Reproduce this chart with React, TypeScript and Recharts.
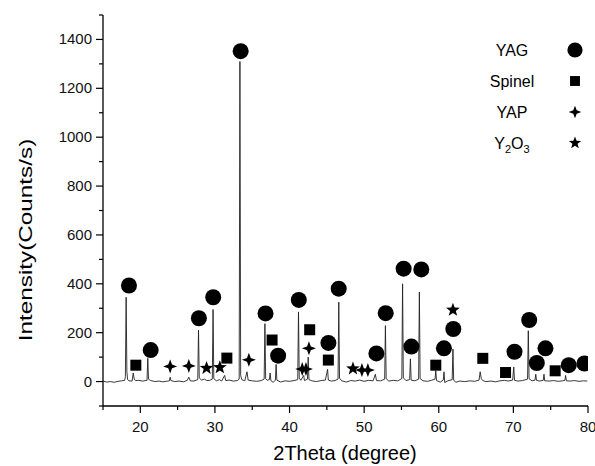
import React from 'react';
import { ComposedChart, Line, Scatter, XAxis, YAxis } from 'recharts';

// XRD trace: [2theta, intensity]
const trace: [number, number][] = [
  [15.0, 2], [15.5, -2], [16.0, 0], [16.5, -3], [17.0, 1], [17.5, 3], [17.9, 5], [18.0, 20], [18.1, 345], [18.2, 40], [18.3, 8],
  [18.5, 3], [18.9, 2], [19.05, 35], [19.2, 8], [19.4, 4], [19.8, 5], [20.3, 2], [20.9, 5], [21.0, 95], [21.1, 10], [21.4, 4],
  [22.0, 0], [22.5, 2], [23.0, -1], [23.5, 1], [23.9, 3], [24.0, 18], [24.1, 4], [24.6, 0], [25.2, 2], [25.8, -1], [26.3, 5],
  [26.5, 18], [26.7, 3], [27.2, 2], [27.7, 8], [27.8, 210], [27.9, 15], [28.2, 6], [28.6, 10], [28.9, 4], [29.3, 5], [29.65, 10],
  [29.75, 295], [29.85, 12], [30.2, 3], [30.6, 8], [30.9, 2], [31.3, 25], [31.45, 4], [31.9, 6], [32.5, 2], [33.0, 4], [33.25, 10],
  [33.35, 1310], [33.45, 25], [33.6, 8], [34.0, 3], [34.3, 40], [34.45, 6], [35.0, 3], [35.6, 1], [36.2, 4], [36.6, 10], [36.7, 237],
  [36.8, 12], [37.0, 5], [37.3, 8], [37.4, 35], [37.5, 4], [37.8, -3], [38.1, 5], [38.2, 70], [38.3, 6], [38.8, -2], [39.4, 3],
  [40.0, 1], [40.6, 4], [41.1, 8], [41.2, 285], [41.3, 15], [41.5, 5], [41.9, 25], [42.0, 4], [42.4, 10], [42.5, 100], [42.6, 8],
  [43.0, 3], [43.6, 0], [44.2, 4], [44.8, 6], [45.1, 50], [45.2, 6], [45.6, 2], [46.1, 4], [46.5, 10], [46.6, 325], [46.7, 14],
  [47.0, 3], [47.6, -2], [48.2, 4], [48.8, 2], [49.4, 6], [50.0, 1], [50.6, 5], [51.2, 3], [51.5, 30], [51.65, 4], [52.2, 3],
  [52.75, 10], [52.85, 229], [52.95, 12], [53.3, 2], [53.9, 5], [54.5, 3], [55.05, 12], [55.15, 400], [55.25, 15], [55.6, 4],
  [56.1, 8], [56.2, 93], [56.3, 6], [56.8, 3], [57.3, 10], [57.4, 366], [57.5, 12], [57.9, 3], [58.5, 1], [59.0, 5], [59.5, 10],
  [59.6, 45], [59.7, 4], [60.2, -2], [60.6, 6], [60.7, 40], [60.8, -4], [61.2, 3], [61.8, 8], [61.9, 133], [62.0, 5], [62.3, -3],
  [62.8, 2], [63.5, 0], [64.2, 3], [64.8, 1], [65.4, 6], [65.55, 40], [65.7, 12], [65.9, 4], [66.3, 0], [67.0, 2], [67.6, -1],
  [68.2, 3], [68.8, 5], [69.3, 2], [69.9, 6], [70.05, 60], [70.15, 5], [70.6, 2], [71.2, 4], [71.9, 10], [72.0, 208], [72.1, 12],
  [72.5, 3], [72.9, 6], [73.0, 30], [73.1, 5], [73.5, 2], [74.0, 5], [74.1, 30], [74.2, 3], [74.8, 2], [75.4, 4], [76.0, 1],
  [76.6, 3], [76.9, 5], [77.0, 25], [77.1, 3], [77.6, 2], [78.2, 4], [78.8, 1], [79.4, 3], [79.9, 2],
];

// phase markers: [2theta, intensity]
const yagMarks: [number, number][] = [
  [18.48, 393], [21.39, 129], [27.85, 259], [29.77, 345], [33.45, 1352], [36.78, 279], [38.47, 106], [41.24, 334],
  [45.21, 158], [46.59, 380], [51.64, 115], [52.89, 280], [55.29, 462], [56.33, 143], [57.66, 459], [60.69, 136],
  [61.95, 215], [70.15, 122], [72.12, 252], [73.14, 76], [74.3, 136], [77.42, 67], [79.52, 74],
];
const spinelMarks: [number, number][] = [
  [19.4, 67], [31.6, 96], [37.66, 170], [42.7, 212], [45.2, 88], [59.6, 67], [65.9, 95], [68.95, 37], [75.6, 44],
];
const yapMarks: [number, number][] = [
  [24.0, 62], [26.5, 64], [34.55, 89], [41.7, 51], [42.2, 51], [42.6, 136], [49.7, 47], [50.5, 47],
];
const y2o3Marks: [number, number][] = [
  [28.88, 55], [30.66, 58], [48.5, 53], [61.9, 293],
];

const xMajorTicks = [20, 30, 40, 50, 60, 70, 80];
const xAllTicks = [15, 20, 25, 30, 35, 40, 45, 50, 55, 60, 65, 70, 75, 80];
const yMajorTicks = [0, 200, 400, 600, 800, 1000, 1200, 1400];
const yAllTicks = [-100, 0, 100, 200, 300, 400, 500, 600, 700, 800, 900, 1000, 1100, 1200, 1300, 1400, 1500];

const phaseNames = ['YAG', 'Spinel', 'YAP', 'Y2O3'];

const FONT = '"Liberation Sans", Arial, sans-serif';

const toPts = (arr: [number, number][]) => arr.map(([x, y]) => ({ x, y }));

const drawSymbol = (kind: string, cx: number, cy: number, scale = 1) => {
  if (kind === 'YAG') return <circle cx={cx} cy={cy} r={8 * scale} fill="#000" />;
  if (kind === 'Spinel') {
    const s = 5.5 * scale;
    return <rect x={cx - s} y={cy - s} width={2 * s} height={2 * s} fill="#000" />;
  }
  if (kind === 'YAP') {
    const o = 7 * scale, i = 1.9 * scale;
    const d = `M${cx},${cy - o} L${cx + i},${cy - i} L${cx + o},${cy} L${cx + i},${cy + i} L${cx},${cy + o} L${cx - i},${cy + i} L${cx - o},${cy} L${cx - i},${cy - i} Z`;
    return <path d={d} fill="#000" />;
  }
  const outer = 7.2 * scale, inner = 3 * scale;
  const pts: string[] = [];
  for (let k = 0; k < 10; k++) {
    const r = k % 2 === 0 ? outer : inner;
    const a = -Math.PI / 2 + (k * Math.PI) / 5;
    pts.push(`${cx + r * Math.cos(a)},${cy + r * Math.sin(a)}`);
  }
  return <polygon points={pts.join(' ')} fill="#000" />;
};

const shapeFor = (kind: string) => (props: any) => {
  const { cx, cy } = props;
  if (cx == null || cy == null) return <g />;
  return drawSymbol(kind, cx, cy);
};

const XTick = (props: any) => {
  const { x, y, payload } = props;
  const major = xMajorTicks.includes(payload.value);
  return (
    <g>
      <line x1={x} y1={y} x2={x} y2={y + (major ? 7 : 4)} stroke="#000" strokeWidth={1.2} />
      {major && (
        <text x={x} y={y + 26} textAnchor="middle" fontSize={15} fontFamily={FONT} fill="#111">
          {payload.value}
        </text>
      )}
    </g>
  );
};

const YTick = (props: any) => {
  const { x, y, payload } = props;
  const major = yMajorTicks.includes(payload.value);
  return (
    <g>
      <line x1={x} y1={y} x2={x - (major ? 7 : 4)} y2={y} stroke="#000" strokeWidth={1.2} />
      {major && (
        <text x={x - 11} y={y + 5} textAnchor="end" fontSize={15} fontFamily={FONT} fill="#111">
          {payload.value}
        </text>
      )}
    </g>
  );
};

const Legend = () => {
  const rowY = [50, 81, 112, 143];
  return (
    <svg width={595} height={466} style={{ position: 'absolute', left: 0, top: 0, pointerEvents: 'none' }}>
      {phaseNames.map((name, i) => (
        <g key={name}>
          <text x={512} y={rowY[i] + 6} textAnchor="middle" fontSize={16} fontFamily={FONT} fill="#000">
            {name === 'Y2O3' ? (
              <>
                Y<tspan fontSize={11} dy={4}>2</tspan>
                <tspan dy={-4}>O</tspan>
                <tspan fontSize={11} dy={4}>3</tspan>
              </>
            ) : (
              name
            )}
          </text>
          {drawSymbol(name, 575, rowY[i], name === 'YAG' ? 0.95 : 0.9)}
        </g>
      ))}
    </svg>
  );
};

export default function App() {
  return (
    <div style={{ position: 'absolute', left: 0, top: 0, width: 595, height: 466, background: '#fff', overflow: 'hidden' }}>
      <ComposedChart width={595} height={466} margin={{ top: 15, right: 7, bottom: 0, left: 0 }}>
        <XAxis
          type="number"
          dataKey="x"
          domain={[15, 80]}
          ticks={xAllTicks}
          interval={0}
          height={60}
          tickSize={0}
          tickMargin={0}
          tickLine={false}
          tick={<XTick />}
          axisLine={{ stroke: '#000', strokeWidth: 1.3 }}
          allowDataOverflow
        />
        <YAxis
          type="number"
          dataKey="y"
          domain={[-100, 1500]}
          ticks={yAllTicks}
          interval={0}
          width={103}
          tickSize={0}
          tickMargin={0}
          tickLine={false}
          tick={<YTick />}
          axisLine={{ stroke: '#000', strokeWidth: 1.3 }}
          allowDataOverflow
        />
        <Line
          data={toPts(trace)}
          dataKey="y"
          type="linear"
          stroke="#222"
          strokeWidth={0.9}
          dot={false}
          activeDot={false}
          isAnimationActive={false}
        />
        <Scatter data={toPts(yagMarks)} dataKey="y" shape={shapeFor('YAG')} isAnimationActive={false} />
        <Scatter data={toPts(spinelMarks)} dataKey="y" shape={shapeFor('Spinel')} isAnimationActive={false} />
        <Scatter data={toPts(yapMarks)} dataKey="y" shape={shapeFor('YAP')} isAnimationActive={false} />
        <Scatter data={toPts(y2o3Marks)} dataKey="y" shape={shapeFor('Y2O3')} isAnimationActive={false} />
      </ComposedChart>
      <svg width={595} height={466} style={{ position: 'absolute', left: 0, top: 0, pointerEvents: 'none' }}>
        <text x={345} y={460} textAnchor="middle" fontSize={20} fontFamily={FONT} fill="#000">
          2Theta (degree)
        </text>
        <text
          x={0}
          y={0}
          transform="translate(32,240) rotate(-90) scale(1.35,1)"
          textAnchor="middle"
          fontSize={18}
          fontFamily={FONT}
          fill="#000"
        >
          Intensity(Counts/s)
        </text>
      </svg>
      <Legend />
    </div>
  );
}
